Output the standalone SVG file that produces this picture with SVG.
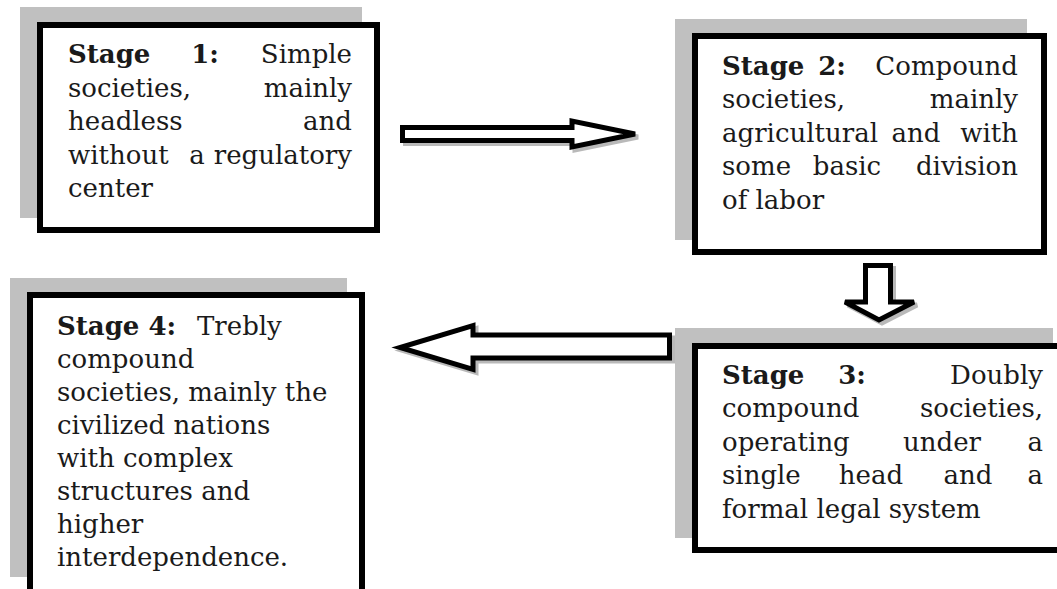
<svg xmlns="http://www.w3.org/2000/svg" width="1057" height="589" viewBox="0 0 1057 589">
<style>
.shadow{fill:#c0c0c0;stroke:none}
.box{fill:#ffffff;stroke:#000000;stroke-width:6}
.t{font-family:"DejaVu Serif","Liberation Serif",serif;font-size:26px;fill:#1a1a1a}
.b{font-weight:bold}
.e{text-anchor:end}
.m{text-anchor:middle}
.arrow{fill:#ffffff;stroke:#000000;stroke-width:5;stroke-linejoin:miter}
.ashadow{fill:none;stroke:#808080;stroke-width:5;opacity:0.55}
</style>
<rect width="1057" height="589" fill="#ffffff"/>

<g id="stage1">
<rect class="shadow" x="20" y="7" width="342" height="211"/>
<rect class="box" x="40" y="25" width="337" height="205"/>
<text class="t"><tspan class="b" x="68" y="63">Stage</tspan><tspan class="b m" x="205" y="63">1:</tspan><tspan class="e" x="352" y="63">Simple</tspan></text>
<text class="t"><tspan x="68" y="97">societies,</tspan><tspan class="e" x="352" y="97">mainly</tspan></text>
<text class="t"><tspan x="68" y="130">headless</tspan><tspan class="e" x="352" y="130">and</tspan></text>
<text class="t"><tspan x="68" y="164">without</tspan><tspan class="m" x="197" y="164">a</tspan><tspan class="e" x="352" y="164">regulatory</tspan></text>
<text class="t" x="68" y="197">center</text>
</g>

<g id="stage2">
<rect class="shadow" x="675" y="19" width="352" height="221"/>
<rect class="box" x="695" y="36" width="349" height="216"/>
<text class="t"><tspan class="b" x="722" y="75">Stage</tspan><tspan class="b m" x="832" y="75">2:</tspan><tspan class="e" x="1018" y="75">Compound</tspan></text>
<text class="t"><tspan x="722" y="108">societies,</tspan><tspan class="e" x="1018" y="108">mainly</tspan></text>
<text class="t"><tspan x="722" y="142">agricultural</tspan><tspan class="m" x="916" y="142">and</tspan><tspan class="e" x="1018" y="142">with</tspan></text>
<text class="t"><tspan x="722" y="175">some</tspan><tspan class="m" x="847" y="175">basic</tspan><tspan class="e" x="1018" y="175">division</tspan></text>
<text class="t" x="722" y="209">of labor</text>
</g>

<g id="stage3">
<rect class="shadow" x="675" y="328" width="378" height="210"/>
<rect class="box" x="695" y="346" width="380" height="204"/>
<text class="t"><tspan class="b" x="722" y="384">Stage</tspan><tspan class="b m" x="852" y="384">3:</tspan><tspan class="e" x="1043" y="384">Doubly</tspan></text>
<text class="t"><tspan x="722" y="417">compound</tspan><tspan class="e" x="1043" y="417">societies,</tspan></text>
<text class="t"><tspan x="722" y="451">operating</tspan><tspan class="m" x="942" y="451">under</tspan><tspan class="e" x="1043" y="451">a</tspan></text>
<text class="t"><tspan x="722" y="484">single</tspan><tspan class="m" x="871" y="484">head</tspan><tspan class="m" x="968" y="484">and</tspan><tspan class="e" x="1043" y="484">a</tspan></text>
<text class="t" x="722" y="518">formal legal system</text>
</g>

<g id="stage4">
<rect class="shadow" x="10" y="278" width="337" height="299"/>
<rect class="box" x="30" y="295" width="332" height="310"/>
<text class="t"><tspan class="b" x="57" y="335">Stage 4:</tspan><tspan x="197" y="335">Trebly</tspan></text>
<text class="t" x="57" y="368">compound</text>
<text class="t" x="57" y="401">societies, mainly the</text>
<text class="t" x="57" y="434">civilized nations</text>
<text class="t" x="57" y="467">with complex</text>
<text class="t" x="57" y="500">structures and</text>
<text class="t" x="57" y="533">higher</text>
<text class="t" x="57" y="566">interdependence.</text>
</g>

<g id="connectors">
<g id="arrow-1-2">
<polygon class="ashadow" transform="translate(3,3)" points="402.5,127.5 572,127.5 572,121 635,134 572,147 572,140.5 402.5,140.5"/>
<polygon class="arrow" points="402.5,127.5 572,127.5 572,121 635,134 572,147 572,140.5 402.5,140.5"/>
</g>
<g id="arrow-2-3">
<polygon class="ashadow" transform="translate(3,3)" points="865.5,265.5 890.5,265.5 890.5,302 914,302 879,320 845,302 865.5,302"/>
<polygon class="arrow" points="865.5,265.5 890.5,265.5 890.5,302 914,302 879,320 845,302 865.5,302"/>
</g>
<g id="arrow-3-4">
<polygon class="ashadow" transform="translate(3,3)" points="669.5,335 473,335 473,325.5 400,347.5 473,369.5 473,358 669.5,358"/>
<polygon class="arrow" points="669.5,335 473,335 473,325.5 400,347.5 473,369.5 473,358 669.5,358"/>
</g>
</g>
</svg>
